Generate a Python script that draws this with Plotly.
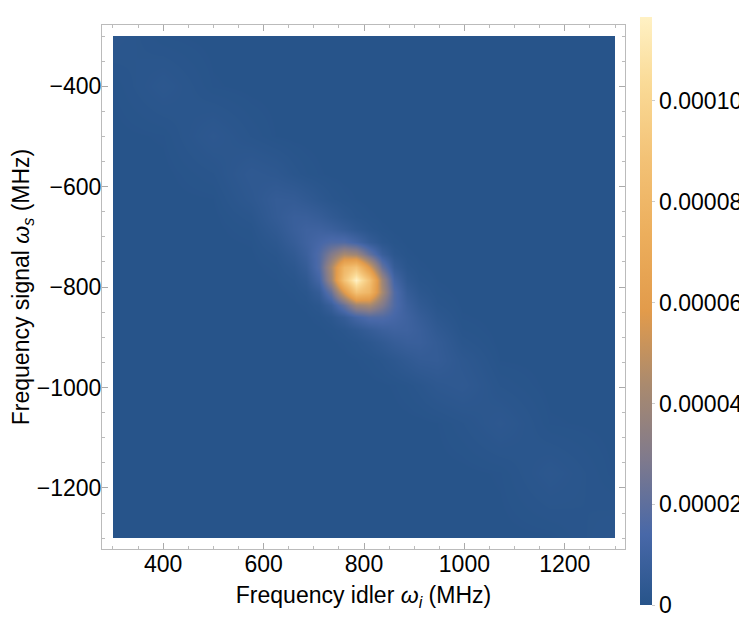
import numpy as np
import plotly.graph_objects as go

# Grid frequencies (MHz): idler axis values, and signal values (negative)
idler_mhz = [300, 400, 500, 575, 625, 660, 685, 710, 735, 760, 785, 810, 835,
             860, 885, 910, 945, 995, 1070, 1170, 1300]
signal_mhz = [-300, -400, -500, -575, -625, -660, -685, -710, -735, -760, -785,
              -810, -835, -860, -885, -910, -945, -995, -1070, -1170, -1300]

# Joint spectral intensity, in units of 1e-6
# rows follow signal_mhz, columns follow idler_mhz
jsi_1e6 = [
    [1.9, 0.3, 0, 0, 0, 0, 0, 0, 0, 0, 0, 0, 0, 0, 0, 0, 0, 0, 0, 0, 0],
    [0.3, 2.2, 0.3, 0, 0, 0, 0, 0, 0, 0, 0, 0, 0, 0, 0, 0, 0, 0, 0, 0, 0],
    [0, 0.3, 2.6, 1.0, 0.2, 0, 0, 0, 0, 0, 0, 0, 0, 0, 0, 0, 0, 0, 0, 0, 0],
    [0, 0, 1.0, 3.6, 2.8, 1.4, 0.7, 0.3, 0.1, 0, 0, 0, 0, 0, 0, 0, 0, 0, 0, 0, 0],
    [0, 0, 0.2, 2.8, 5.5, 5.2, 3.9, 2.4, 1.2, 0.5, 0.2, 0, 0, 0, 0, 0, 0, 0, 0, 0, 0],
    [0, 0, 0, 1.4, 5.2, 7.7, 7.7, 6.3, 4.2, 2.3, 1.0, 0.4, 0.1, 0, 0, 0, 0, 0, 0, 0, 0],
    [0, 0, 0, 0.7, 3.9, 7.7, 9.6, 9.8, 8.4, 5.9, 3.3, 1.4, 0.4, 0.1, 0, 0, 0, 0, 0, 0, 0],
    [0, 0, 0, 0.3, 2.4, 6.3, 9.8, 13.2, 16.1, 16.4, 12.0, 5.8, 1.9, 0.5, 0.1, 0, 0, 0, 0, 0, 0],
    [0, 0, 0, 0.1, 1.2, 4.2, 8.4, 16.1, 29.7, 42.8, 39.6, 22.0, 7.6, 1.9, 0.4, 0.1, 0, 0, 0, 0, 0],
    [0, 0, 0, 0, 0.5, 2.3, 5.9, 16.4, 42.8, 79.3, 88.5, 57.1, 22.0, 5.8, 1.4, 0.4, 0, 0, 0, 0, 0],
    [0, 0, 0, 0, 0.2, 1.0, 3.3, 12.0, 39.6, 88.5, 116.6, 88.5, 39.6, 12.0, 3.3, 1.0, 0.2, 0, 0, 0, 0],
    [0, 0, 0, 0, 0, 0.4, 1.4, 5.8, 22.0, 57.1, 88.5, 79.3, 42.8, 16.4, 5.9, 2.3, 0.5, 0, 0, 0, 0],
    [0, 0, 0, 0, 0, 0.1, 0.4, 1.9, 7.6, 22.0, 39.6, 42.8, 29.7, 16.1, 8.4, 4.2, 1.2, 0.1, 0, 0, 0],
    [0, 0, 0, 0, 0, 0, 0.1, 0.5, 1.9, 5.8, 12.0, 16.4, 16.1, 13.2, 9.8, 6.3, 2.4, 0.3, 0, 0, 0],
    [0, 0, 0, 0, 0, 0, 0, 0.1, 0.4, 1.4, 3.3, 5.9, 8.4, 9.8, 9.6, 7.7, 3.9, 0.7, 0, 0, 0],
    [0, 0, 0, 0, 0, 0, 0, 0, 0.1, 0.4, 1.0, 2.3, 4.2, 6.3, 7.7, 7.7, 5.2, 1.4, 0, 0, 0],
    [0, 0, 0, 0, 0, 0, 0, 0, 0, 0, 0.2, 0.5, 1.2, 2.4, 3.9, 5.2, 5.5, 2.8, 0.2, 0, 0],
    [0, 0, 0, 0, 0, 0, 0, 0, 0, 0, 0, 0, 0.1, 0.3, 0.7, 1.4, 2.8, 3.6, 1.0, 0, 0],
    [0, 0, 0, 0, 0, 0, 0, 0, 0, 0, 0, 0, 0, 0, 0, 0, 0.2, 1.0, 2.6, 0.3, 0],
    [0, 0, 0, 0, 0, 0, 0, 0, 0, 0, 0, 0, 0, 0, 0, 0, 0, 0, 0.3, 2.2, 0.1],
    [0, 0, 0, 0, 0, 0, 0, 0, 0, 0, 0, 0, 0, 0, 0, 0, 0, 0, 0, 0.1, 1.8],
]

z_max = 116.6e-6
cbar_ticks = [0, 2e-5, 4e-5, 6e-5, 8e-5, 1e-4]
cbar_ticklabels = ["0", "0.00002", "0.00004", "0.00006", "0.00008", "0.00010"]

data_x_range = [300, 1300]
data_y_range = [-1300, -300]
frame_x_range = [278.1, 1319.9]
frame_y_range = [-1321.5, -278.1]

z = np.array(jsi_1e6) * 1e-6

colorscale = [
    [0.0, "rgb(39,84,138)"],
    [0.12, "rgb(72,104,168)"],
    [0.25, "rgb(128,122,140)"],
    [0.375, "rgb(170,138,110)"],
    [0.5, "rgb(226,155,75)"],
    [0.63, "rgb(236,174,92)"],
    [0.76, "rgb(243,194,118)"],
    [0.885, "rgb(250,218,150)"],
    [1.0, "rgb(255,241,196)"],
]

font = "Liberation Sans, Arial, sans-serif"
FS = 23

# the page has an 8px body margin, so the figure is drawn 8px smaller/shifted
W, H = 739, 629
ml, mr, mt, mb = 94, 122, 17, 88
pw, ph = W - ml - mr, H - mt - mb

fxw = frame_x_range[1] - frame_x_range[0]
fyw = frame_y_range[1] - frame_y_range[0]
dom_x = [(data_x_range[0] - frame_x_range[0]) / fxw, (data_x_range[1] - frame_x_range[0]) / fxw]
dom_y = [(data_y_range[0] - frame_y_range[0]) / fyw, (data_y_range[1] - frame_y_range[0]) / fyw]

fig = go.Figure()
fig.add_trace(go.Heatmap(
    x=idler_mhz, y=signal_mhz, z=z,
    zmin=0, zmax=z_max, zsmooth="best",
    colorscale=colorscale,
    xaxis="x", yaxis="y",
    colorbar=dict(
        x=(632 - ml) / pw, xanchor="left", xpad=0,
        y=(H - mb - 303.2) / ph, yanchor="middle", ypad=0,
        len=588, lenmode="pixels",
        thickness=12, thicknessmode="pixels",
        outlinewidth=0,
        tickvals=cbar_ticks, ticktext=cbar_ticklabels,
        ticks="outside", ticklen=3, tickcolor="#cccccc",
        tickfont=dict(family=font, size=FS, color="black"),
    ),
))
fig.add_trace(go.Scatter(x=[], y=[], xaxis="x2", yaxis="y2", showlegend=False,
                         hoverinfo="skip"))

axis_common = dict(
    showline=True, mirror="ticks", linecolor="#bbbbbb", linewidth=1,
    ticks="inside", ticklen=6, tickcolor="#aaaaaa",
    showgrid=False, zeroline=False,
    tickfont=dict(family=font, size=FS, color="black"),
    minor=dict(ticks="inside", ticklen=3, tickcolor="#bbbbbb", dtick=50),
    dtick=200,
)

fig.update_layout(
    width=W, height=H,
    margin=dict(l=ml, r=mr, t=mt, b=mb, autoexpand=False),
    paper_bgcolor="white", plot_bgcolor="rgba(0,0,0,0)",
    font=dict(family=font, size=FS, color="black"),
    xaxis=dict(domain=dom_x, range=data_x_range, visible=False, anchor="y"),
    yaxis=dict(domain=dom_y, range=data_y_range, visible=False, anchor="x"),
    xaxis2=dict(domain=[0, 1], range=frame_x_range, anchor="y2",
                ticklabelstandoff=-6,
                title=dict(text="Frequency idler <i>ω</i><sub><i>i</i></sub> (MHz)",
                           font=dict(family=font, size=FS), standoff=11),
                **axis_common),
    yaxis2=dict(domain=[0, 1], range=frame_y_range, anchor="x2",
                ticklabelstandoff=-5,
                title=dict(text="Frequency signal <i>ω</i><sub><i>s</i></sub> (MHz)",
                           font=dict(family=font, size=FS), standoff=10),
                **axis_common),
    showlegend=False,
)

fig.write_html("out.html")
